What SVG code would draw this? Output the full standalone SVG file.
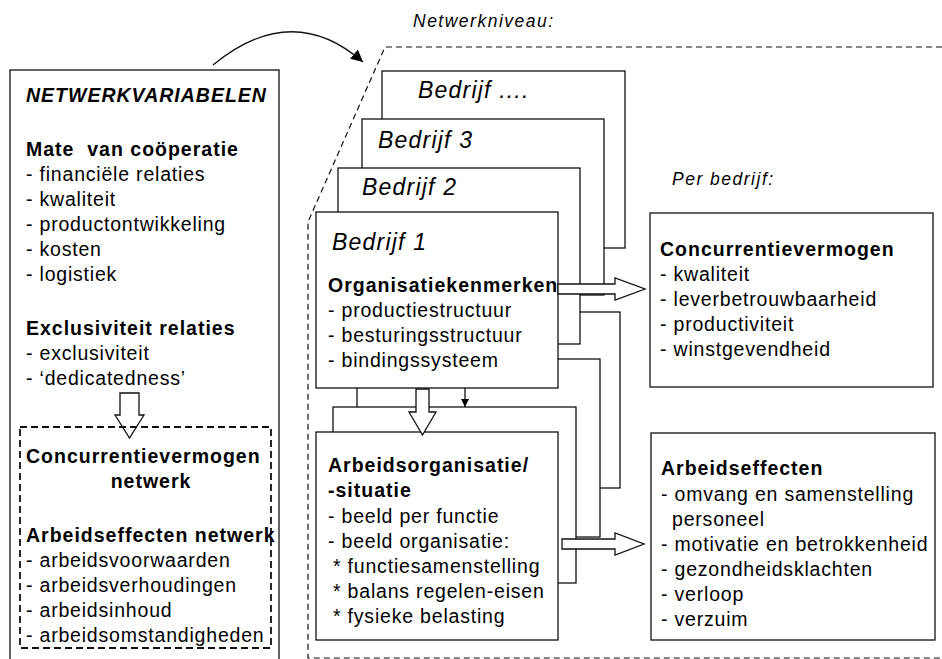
<svg xmlns="http://www.w3.org/2000/svg" width="942" height="659" viewBox="0 0 942 659">
<defs>
<style>
text{font-family:"Liberation Sans",Arial,sans-serif;font-size:19.5px;letter-spacing:0.8px;fill:#000}
.b{font-weight:bold;letter-spacing:1px}
.bi{font-weight:bold;font-style:italic;letter-spacing:1px}
.it{font-style:italic;font-size:23px;letter-spacing:1.2px}
.sm{font-style:italic;font-size:17.5px;letter-spacing:1.5px}
.box{fill:#fff;stroke:#111;stroke-width:1.3}
.ln{fill:none;stroke:#111;stroke-width:1.3}
.hol{fill:#fff;stroke:#111;stroke-width:1.3;stroke-linejoin:miter}
.dash1{fill:none;stroke:#111;stroke-width:1.2;stroke-dasharray:6 4}
.dash2{fill:none;stroke:#111;stroke-width:1.8;stroke-dasharray:7 4}
</style>
<marker id="ah" viewBox="0 0 10 10" refX="10" refY="5" markerWidth="12" markerHeight="12" markerUnits="userSpaceOnUse" orient="auto">
<path d="M0,0 L10,5 L0,10 z" fill="#000"/>
</marker>
<marker id="ah2" viewBox="0 0 10 10" refX="10" refY="5" markerWidth="8" markerHeight="8" markerUnits="userSpaceOnUse" orient="auto">
<path d="M0,0 L10,5 L0,10 z" fill="#000"/>
</marker>
</defs>
<rect width="942" height="659" fill="#fff"/>

<!-- network level boundary -->
<g id="netwerkniveau">
<path class="dash1" d="M942,47 L385,47 L308,222 L308,658 L942,658"/>
<text class="sm" x="413" y="27">Netwerkniveau:</text>
<text class="sm" x="672" y="185">Per bedrijf:</text>
</g>

<!-- left box -->
<g id="netwerkvariabelen">
<rect class="box" x="10" y="70" width="269" height="640"/>
<text class="bi" x="26" y="102">NETWERKVARIABELEN</text>
<text class="b" x="26" y="156" xml:space="preserve">Mate  van coöperatie</text>
<text x="26" y="181">- financiële relaties</text>
<text x="26" y="206">- kwaliteit</text>
<text x="26" y="231">- productontwikkeling</text>
<text x="26" y="256">- kosten</text>
<text x="26" y="281">- logistiek</text>
<text class="b" x="26" y="335">Exclusiviteit relaties</text>
<text x="26" y="360">- exclusiviteit</text>
<text x="26" y="385">- ‘dedicatedness’</text>
</g>

<g id="netwerk-effecten">
<polygon class="hol" points="120,393 139,393 139,415 144,415 129.5,438 115,415 120,415"/>
<rect class="dash2" x="20" y="427" width="251" height="221"/>
<text class="b" x="26" y="463">Concurrentievermogen</text>
<text class="b" x="151" y="488" text-anchor="middle">netwerk</text>
<text class="b" x="26" y="542">Arbeidseffecten netwerk</text>
<text x="26" y="567">- arbeidsvoorwaarden</text>
<text x="26" y="592">- arbeidsverhoudingen</text>
<text x="26" y="617">- arbeidsinhoud</text>
<text x="26" y="642">- arbeidsomstandigheden</text>
</g>

<!-- company stack -->
<g id="bedrijf-n">
<rect class="box" x="382" y="71" width="243" height="177"/>
<text class="it" x="418" y="98">Bedrijf ....</text>
</g>
<g id="bedrijf-3">
<rect class="box" x="362" y="119" width="242" height="176"/>
<text class="it" x="378" y="148">Bedrijf 3</text>
</g>
<g id="arbeid-4">
<rect class="box" x="378" y="312" width="242" height="176"/>
</g>
<g id="bedrijf-2">
<rect class="box" x="338" y="168" width="242" height="176"/>
<text class="it" x="362" y="195">Bedrijf 2</text>
</g>
<g id="arbeid-3">
<rect class="box" x="357" y="359" width="243" height="178"/>
</g>
<g id="bedrijf-1">
<rect class="box" x="316" y="212" width="242" height="176"/>
<text class="it" x="332" y="250">Bedrijf 1</text>
<text class="b" x="328" y="292">Organisatiekenmerken</text>
<text x="328" y="317">- productiestructuur</text>
<text x="328" y="342">- besturingsstructuur</text>
<text x="328" y="367">- bindingssysteem</text>
</g>
<g id="arbeid-2">
<rect class="box" x="333" y="407" width="243" height="176"/>
</g>
<g id="arbeidsorganisatie">
<rect class="box" x="316" y="432" width="242" height="208"/>
<text class="b" x="328" y="472">Arbeidsorganisatie/</text>
<text class="b" x="328" y="497">-situatie</text>
<text x="328" y="523">- beeld per functie</text>
<text x="328" y="548">- beeld organisatie:</text>
<text x="333" y="573">* functiesamenstelling</text>
<text x="333" y="598">* balans regelen-eisen</text>
<text x="333" y="623">* fysieke belasting</text>
</g>

<!-- right boxes -->
<g id="concurrentievermogen">
<rect class="box" x="650" y="213" width="283" height="174"/>
<text class="b" x="660" y="256">Concurrentievermogen</text>
<text x="660" y="281">- kwaliteit</text>
<text x="660" y="306">- leverbetrouwbaarheid</text>
<text x="660" y="331">- productiviteit</text>
<text x="660" y="356">- winstgevendheid</text>
</g>
<g id="arbeidseffecten">
<rect class="box" x="651" y="433" width="284" height="207"/>
<text class="b" x="661" y="475">Arbeidseffecten</text>
<text x="661" y="501">- omvang en samenstelling</text>
<text x="672" y="526">personeel</text>
<text x="661" y="551">- motivatie en betrokkenheid</text>
<text x="661" y="576">- gezondheidsklachten</text>
<text x="661" y="601">- verloop</text>
<text x="661" y="626">- verzuim</text>
</g>

<!-- connectors -->
<g id="connectors">
<path class="ln" d="M213,65 Q292,0 363,62" marker-end="url(#ah)"/>
<polygon class="hol" points="558,284 615,284 615,278 645,289 615,300 615,294 558,294"/>
<polygon class="hol" points="562,539 615,539 615,533 644,544 615,555 615,549 562,549"/>
<polygon class="hol" points="416,389 429,389 429,412 436,412 422.5,435 409,412 416,412"/>
<line class="ln" x1="465" y1="388" x2="465" y2="407" marker-end="url(#ah2)"/>
</g>
</svg>
